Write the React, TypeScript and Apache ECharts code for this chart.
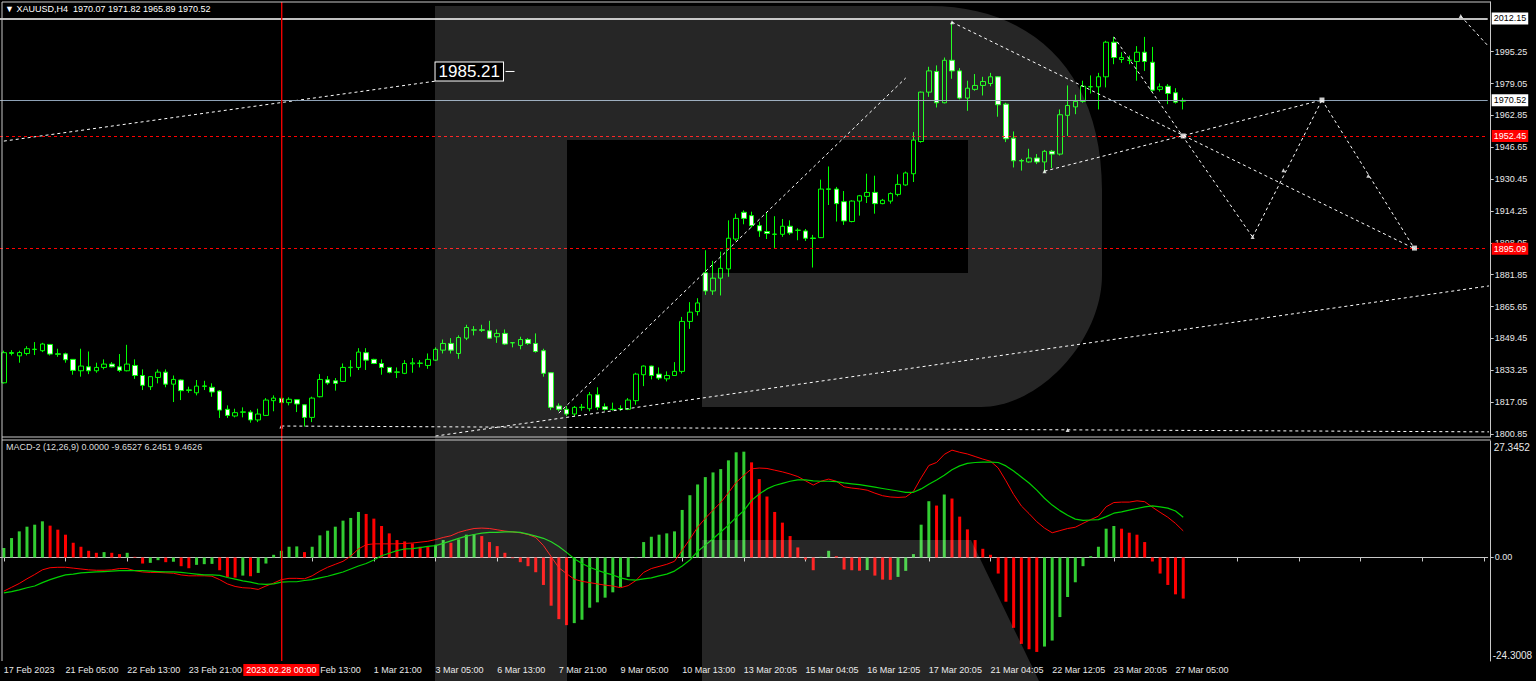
import { useEffect, useRef } from 'react';
import * as echarts from 'echarts';

// ---------- DATA ----------
// [open, high, low, close] per H4 bar, 17 Feb 2023 .. 27 Mar 2023 09:00
const ohlc: number[][] = [
  [1826.9, 1843.2, 1826.5, 1842.2], [1841.8, 1843.5, 1840.8, 1842.3], [1840.6, 1843.2, 1837.1, 1842.3], [1841.8, 1845.5, 1840.8, 1844.2],
  [1843.8, 1847.6, 1841.0, 1844.0], [1843.2, 1847.2, 1842.5, 1846.6], [1846.4, 1846.6, 1840.8, 1841.5], [1841.6, 1844.2, 1840.1, 1841.4],
  [1841.6, 1842.2, 1837.1, 1838.6], [1838.8, 1838.9, 1831.0, 1833.2], [1833.0, 1844.2, 1830.0, 1835.4], [1835.0, 1842.8, 1831.3, 1833.0],
  [1833.0, 1837.1, 1832.0, 1834.7], [1834.7, 1838.8, 1833.7, 1836.4], [1836.4, 1837.4, 1834.7, 1835.0], [1835.0, 1841.5, 1832.3, 1833.2],
  [1833.0, 1846.2, 1832.7, 1836.4], [1835.7, 1838.8, 1828.9, 1830.6], [1830.6, 1833.7, 1823.2, 1825.6], [1824.9, 1830.2, 1823.2, 1830.0],
  [1829.6, 1833.7, 1826.6, 1832.3], [1832.3, 1833.7, 1824.6, 1826.2], [1826.2, 1830.6, 1817.1, 1828.6], [1828.3, 1828.6, 1818.1, 1822.9],
  [1823.0, 1824.9, 1821.8, 1823.3], [1821.8, 1828.3, 1820.5, 1825.2], [1825.3, 1827.9, 1823.2, 1825.1], [1824.6, 1826.6, 1819.8, 1822.2],
  [1822.7, 1823.2, 1809.0, 1813.0], [1813.4, 1815.4, 1809.0, 1810.3], [1810.0, 1813.7, 1809.3, 1811.7], [1811.9, 1814.4, 1809.3, 1812.1],
  [1812.0, 1813.0, 1806.6, 1808.0], [1808.0, 1813.7, 1806.9, 1811.0], [1810.3, 1819.1, 1810.0, 1818.1], [1817.8, 1820.5, 1812.4, 1819.1],
  [1819.0, 1819.8, 1816.5, 1816.8], [1816.8, 1819.5, 1815.4, 1818.5], [1818.3, 1818.5, 1812.0, 1816.1], [1815.7, 1815.9, 1804.6, 1809.3],
  [1809.3, 1819.8, 1806.9, 1819.1], [1819.8, 1831.3, 1819.5, 1828.6], [1828.4, 1830.3, 1825.9, 1826.8], [1827.9, 1829.3, 1822.9, 1826.6],
  [1827.6, 1836.7, 1827.4, 1834.7], [1834.6, 1838.4, 1830.0, 1834.8], [1834.7, 1844.5, 1833.4, 1842.5], [1842.2, 1844.5, 1833.4, 1838.4],
  [1838.8, 1839.1, 1836.4, 1836.7], [1836.7, 1838.8, 1831.0, 1834.7], [1834.7, 1834.9, 1831.7, 1832.2], [1832.4, 1834.7, 1829.3, 1832.3],
  [1831.7, 1838.4, 1831.3, 1836.7], [1836.5, 1839.5, 1832.0, 1837.0], [1836.9, 1838.4, 1834.7, 1836.8], [1835.7, 1841.8, 1834.0, 1838.8],
  [1838.4, 1844.9, 1838.1, 1843.9], [1843.5, 1848.9, 1841.8, 1846.9], [1846.9, 1849.6, 1841.8, 1843.5], [1841.8, 1851.0, 1839.1, 1849.9],
  [1849.6, 1856.4, 1848.6, 1855.0], [1853.7, 1855.7, 1851.0, 1853.8], [1853.8, 1856.4, 1852.7, 1853.6], [1853.3, 1858.4, 1849.4, 1849.6],
  [1850.3, 1854.0, 1847.2, 1852.0], [1852.0, 1854.0, 1846.2, 1846.6], [1847.3, 1847.6, 1844.9, 1847.2], [1845.9, 1850.3, 1843.9, 1848.9],
  [1848.9, 1849.6, 1846.2, 1846.9], [1846.9, 1852.0, 1842.2, 1842.8], [1843.2, 1844.2, 1830.0, 1831.7], [1832.0, 1832.3, 1813.0, 1814.4],
  [1815.1, 1816.4, 1812.4, 1813.4], [1813.4, 1815.1, 1810.0, 1811.0], [1811.0, 1815.1, 1810.0, 1814.4], [1814.3, 1816.1, 1812.7, 1814.5],
  [1813.7, 1822.2, 1812.4, 1820.8], [1820.8, 1824.6, 1813.0, 1814.4], [1814.7, 1816.4, 1812.7, 1813.4], [1813.4, 1816.8, 1812.7, 1813.3],
  [1813.8, 1815.4, 1812.7, 1813.6], [1813.4, 1819.1, 1813.0, 1818.1], [1817.8, 1832.0, 1815.7, 1831.3], [1831.0, 1835.7, 1825.2, 1835.4],
  [1835.4, 1835.6, 1828.6, 1830.6], [1831.3, 1834.7, 1828.3, 1829.3], [1828.9, 1832.7, 1827.6, 1830.6], [1830.6, 1837.4, 1830.5, 1832.7],
  [1832.7, 1860.4, 1831.6, 1858.1], [1858.1, 1867.9, 1854.3, 1862.8], [1863.1, 1869.9, 1861.1, 1867.5], [1882.8, 1894.3, 1871.6, 1873.6],
  [1873.6, 1888.9, 1871.6, 1880.1], [1880.1, 1893.6, 1871.3, 1885.1], [1884.8, 1909.5, 1880.8, 1900.4], [1900.0, 1912.9, 1899.0, 1910.5],
  [1913.6, 1914.6, 1907.5, 1910.5], [1911.9, 1913.9, 1905.8, 1906.8], [1906.8, 1908.8, 1901.1, 1904.1], [1903.8, 1913.6, 1900.0, 1902.8],
  [1902.5, 1911.6, 1895.3, 1902.4], [1902.4, 1910.2, 1901.1, 1906.5], [1906.5, 1909.5, 1902.1, 1903.1], [1904.5, 1905.5, 1899.4, 1904.4],
  [1904.1, 1905.1, 1899.0, 1900.4], [1900.5, 1902.1, 1885.5, 1900.3], [1900.7, 1930.2, 1900.5, 1925.4], [1925.5, 1936.9, 1917.3, 1925.3],
  [1925.4, 1926.5, 1908.9, 1918.0], [1919.0, 1924.4, 1907.2, 1909.2], [1908.9, 1919.7, 1908.5, 1919.3], [1919.3, 1922.4, 1911.9, 1922.0],
  [1921.7, 1933.2, 1918.3, 1923.7], [1923.7, 1932.2, 1912.9, 1918.0], [1918.0, 1920.4, 1917.7, 1919.7], [1919.3, 1923.7, 1918.0, 1923.1],
  [1922.7, 1932.9, 1921.7, 1927.8], [1927.5, 1934.3, 1927.1, 1933.6], [1933.2, 1954.4, 1929.0, 1950.3], [1949.6, 1975.0, 1949.0, 1974.7],
  [1974.7, 1987.6, 1972.3, 1985.5], [1985.2, 1988.3, 1966.9, 1969.3], [1969.3, 1992.3, 1969.0, 1990.9], [1990.9, 2010.3, 1981.5, 1985.5],
  [1985.5, 1986.9, 1971.0, 1971.7], [1971.7, 1980.5, 1965.2, 1976.7], [1976.1, 1983.9, 1975.4, 1978.1], [1978.1, 1982.5, 1973.0, 1980.1],
  [1979.1, 1984.5, 1977.7, 1982.5], [1982.5, 1982.8, 1962.2, 1968.3], [1968.6, 1969.3, 1949.3, 1951.0], [1951.3, 1954.7, 1936.4, 1939.8],
  [1939.9, 1940.8, 1934.8, 1939.7], [1939.2, 1945.9, 1938.8, 1941.2], [1941.2, 1943.2, 1938.1, 1939.2], [1939.2, 1945.3, 1933.7, 1944.6],
  [1944.6, 1945.3, 1936.1, 1943.2], [1943.2, 1965.9, 1942.5, 1963.2], [1962.9, 1978.1, 1952.4, 1967.9], [1967.2, 1973.4, 1963.5, 1970.0],
  [1970.0, 1980.5, 1969.3, 1977.7], [1977.5, 1983.2, 1974.0, 1977.4], [1977.4, 1984.5, 1965.9, 1982.5], [1982.5, 2000.8, 1977.1, 2000.1],
  [2000.1, 2002.8, 1988.9, 1992.3], [1991.3, 1995.0, 1989.6, 1992.3], [1991.0, 1993.3, 1988.9, 1990.9], [1990.3, 1998.1, 1980.5, 1995.0],
  [1995.0, 2002.8, 1985.5, 1990.3], [1989.9, 1997.7, 1975.0, 1975.7], [1976.1, 1979.1, 1975.0, 1977.4], [1977.7, 1978.8, 1968.6, 1974.0],
  [1974.4, 1976.7, 1968.9, 1969.6], [1970.07, 1971.82, 1965.89, 1970.52],
];

// MACD-2 (12,26,9) histogram
const macdHist: number[] = [
  2.2, 4.56, 6.13, 7.23, 7.7, 8.49, 7.47, 6.53, 5.35, 3.46,
  2.52, 1.57, 1.1, 1.26, 1.1, 0.79, 1.1, 0.16, -1.42, -1.26,
  -0.63, -1.1, -1.0, -2.04, -2.52, -1.73, -1.57, -1.5, -2.99, -4.56,
  -4.72, -4.25, -4.4, -3.62, -1.42, 0.63, 1.57, 2.52, 2.6, 1.26,
  2.52, 5.19, 6.29, 7.23, 8.65, 9.28, 10.69, 10.22, 9.12, 7.39,
  5.66, 4.09, 3.77, 3.3, 2.52, 2.45, 2.99, 4.09, 3.46, 4.25,
  5.35, 5.45, 5.03, 3.62, 2.67, 1.1, -0.16, -1.1, -2.04, -3.46,
  -6.45, -11.32, -14.47, -15.88, -15.41, -14.62, -11.79, -10.53, -9.43, -8.18,
  -6.92, -4.56, -0.16, 3.62, 4.87, 5.35, 5.66, 6.13, 11.16, 14.62,
  17.14, 18.87, 19.97, 20.75, 22.8, 24.69, 24.84, 22.33, 18.4, 14.31,
  10.69, 8.18, 5.03, 2.36, -0.47, -2.99, 0.16, 1.57, 0.31, -2.83,
  -2.99, -3.1, -2.95, -4.25, -5.19, -5.25, -4.56, -3.14, 0.79, 7.7,
  13.21, 12.19, 14.78, 13.84, 9.59, 6.6, 4.09, 2.04, 0.63, -3.77,
  -10.38, -16.51, -20.28, -21.54, -22.17, -20.91, -19.5, -13.99, -9.28, -5.82,
  -2.04, 0.31, 2.52, 6.76, 7.39, 6.76, 5.82, 5.35, 3.62, -0.94,
  -3.77, -6.45, -8.65, -9.6527,
];

// red line
const macdMain: number[] = [
  -7.9, -7.0, -6.1, -5.0, -4.0, -2.9, -2.4, -2.3, -2.3, -2.5,
  -2.7, -2.9, -3.0, -3.0, -2.9, -2.6, -2.6, -3.1, -3.4, -3.5,
  -3.5, -3.6, -3.7, -4.1, -4.3, -4.3, -4.3, -4.4, -5.2, -6.2,
  -6.8, -7.1, -7.2, -7.5, -6.7, -6.0, -5.2, -4.9, -4.9, -5.0,
  -4.3, -3.2, -2.3, -1.6, -0.9, 0.3, 2.0, 3.0, 3.2, 3.2,
  3.2, 3.2, 3.3, 3.4, 3.6, 3.8, 4.2, 4.7, 5.1, 5.9,
  6.4, 6.8, 6.9, 6.8, 6.5, 6.2, 6.0, 5.8, 5.4, 4.7,
  2.8, 0.2, -2.4, -3.8, -5.1, -5.6, -5.9, -6.2, -6.5, -6.7,
  -7.1, -6.6, -5.4, -3.5, -2.6, -2.1, -1.6, -0.9, 1.7, 4.3,
  7.1, 9.2, 11.1, 12.9, 15.2, 17.6, 19.3, 20.8, 21.0, 20.9,
  20.5, 20.1, 19.6, 19.0, 18.0, 17.0, 17.9, 18.4, 17.9, 16.6,
  16.3, 16.1, 15.8, 15.1, 14.5, 14.2, 14.1, 14.2, 15.5, 18.7,
  21.6, 22.3, 24.2, 25.2, 24.7, 24.3, 23.7, 23.1, 22.6, 21.0,
  18.0, 14.8, 12.1, 10.3, 8.4, 6.9, 5.8, 6.3, 6.8, 7.1,
  8.0, 8.9, 9.7, 11.9, 12.9, 13.0, 13.0, 13.3, 13.1, 11.8,
  10.6, 9.45, 8.0, 6.2451,
];

// green line
const macdSignal: number[] = [
  -8.3, -8.0, -7.6, -7.1, -6.7, -5.9, -5.2, -4.6, -4.1, -3.9,
  -3.6, -3.5, -3.4, -3.3, -3.2, -3.1, -3.1, -3.1, -3.1, -3.2,
  -3.3, -3.4, -3.4, -3.5, -3.7, -3.9, -4.1, -4.1, -4.2, -4.7,
  -5.1, -5.5, -5.8, -6.2, -6.3, -6.2, -5.8, -5.7, -5.7, -5.4,
  -5.2, -4.8, -4.4, -3.9, -3.4, -2.7, -2.0, -1.4, -0.6, 0.4,
  1.0, 1.6, 2.0, 2.1, 2.3, 2.6, 2.8, 3.3, 3.9, 4.5,
  5.0, 5.4, 5.7, 5.9, 5.9, 6.0, 6.0, 5.9, 5.5, 5.0,
  4.5, 3.7, 2.6, 1.2, -0.3, -1.4, -2.3, -3.0, -3.6, -4.1,
  -4.8, -5.2, -5.3, -5.0, -4.8, -4.3, -3.9, -3.2, -2.0, -0.6,
  1.4, 2.9, 4.4, 6.0, 7.6, 9.4, 11.0, 13.4, 14.9, 16.1,
  16.9, 17.4, 17.9, 18.2, 18.2, 18.0, 17.9, 17.9, 17.8, 17.5,
  17.3, 17.1, 16.8, 16.5, 16.2, 15.9, 15.6, 15.3, 15.3, 16.1,
  17.2, 18.2, 19.3, 20.6, 21.5, 22.1, 22.3, 22.4, 22.4, 22.3,
  21.5, 20.3, 18.9, 17.5, 15.8, 13.9, 12.3, 11.0, 9.9, 9.0,
  8.7, 8.8, 8.9, 9.6, 10.4, 10.7, 11.1, 11.5, 11.9, 12.1,
  11.9, 11.6, 10.9, 9.4626,
];

// one label every 8 bars, starting at bar 0 (label 4 is hidden under the red time box,
// label 5 shows only its visible part, "Feb 13:00")
const timeLabels: string[] = [
  '17 Feb 2023', '21 Feb 05:00', '22 Feb 13:00', '23 Feb 21:00', '', 'Feb 13:00',
  '1 Mar 21:00', '3 Mar 05:00', '6 Mar 13:00', '7 Mar 21:00', '9 Mar 05:00', '10 Mar 13:00',
  '13 Mar 20:05', '15 Mar 04:05', '16 Mar 12:05', '17 Mar 20:05', '21 Mar 04:05', '22 Mar 12:05',
  '23 Mar 20:05', '27 Mar 05:00',
];
const partialLabelIndex = 5;

const priceTicks: number[] = [
  1800.85, 1817.05, 1833.25, 1849.45, 1865.65, 1881.85, 1898.05,
  1914.25, 1930.45, 1946.65, 1962.85, 1979.05, 1995.25,
];
const macdTicks: number[] = [-24.3008, 0, 27.3452];

// horizontal levels
const levelWhite = 2012.15;
const levelBid = 1970.52;
const levelRed: number[] = [1952.45, 1895.09];
const markedBar = 36; // vertical red line, 2023.02.28 00:00
const markedBarLabel = '2023.02.28 00:00';
const priceLabelValue = 1985.21;
const priceLabelAnchor: number[] = [56.0, 1985.21];

// dashed trend lines in [bar index, price]
const trendLines: number[][][] = [
  [[0.15, 1949.8], [55.6, 1980.3]],
  [[35.8, 1804.9], [193.5, 1801.9]],
  [[55.5, 1799.8], [193.5, 1876.9]],
  [[72.2, 1811.5], [116.7, 1981.9]],
  [[123, 2010.3], [182.7, 1895.1]],
  [[144, 2002.8], [161.9, 1901.0]],
  [[135, 1934.5], [171.0, 1970.7]],
  [[161.9, 1901.0], [171.0, 1970.7]],
  [[171.0, 1970.7], [182.7, 1895.1]],
  [[188.9, 2013.4], [193.5, 1992.0]],
];
const squareMarks: number[][] = [[153, 1952.4], [171.0, 1970.7], [182.7, 1895.4]];
const arrowMarks: number[][] = [
  [123, 2010.3], [135, 1934.5], [161.9, 1901.0], [166.4, 1935.0], [177.0, 1932.2],
  [35.8, 1804.7], [137.9, 1802.9], [188.9, 2013.4],
];

const SLOT_COUNT = 193;
const slots = Array.from({ length: SLOT_COUNT }, (_, i) => String(i));

// ---------- STYLE / LAYOUT ----------
const W = 1536;
const H = 681;
const FONT = '"Liberation Sans", Arial, sans-serif';
const GRID_RIGHT = 48.3;
const FRAME = '#c8c8c8';
const TXT = '#e8e8e8';
const CANDLE = '#00ff00';
const HIST_UP = '#32cd32';
const HIST_DN = '#ff0000';
const VLINE = '#ee0000';

const R_PATH =
  'M435 6 L930 6 C1030 6 1102 70 1102 190 L1102 275 C1102 340 1040 407 981 407 L702 407 L702 273 L968 273 L968 140 L567 140 L567 681 L435 681 Z ' +
  'M702 540 L971 540 L1039 681 L702 681 Z';

let registered = false;

export default function App() {
  const ref = useRef<HTMLDivElement>(null);

  useEffect(() => {
    document.body.style.margin = '0';
    document.body.style.background = '#000';
    if (!registered) {
      echarts.graphic.registerShape('rLogo', echarts.graphic.extendPath(R_PATH, {}) as any);
      registered = true;
    }
    const chart = echarts.init(ref.current!, null, { renderer: 'svg', width: W, height: H });

    const hLine = (value: number, color: string, type: any, width: number, bg: string, fg: string) => ({
      yAxis: value,
      lineStyle: { color, type, width },
      label: {
        show: true,
        position: 'end',
        distance: 4,
        formatter: value.toFixed(2),
        backgroundColor: bg,
        color: fg,
        padding: [2, 2, 1, 2],
        fontSize: 9,
        fontFamily: FONT,
      },
    });

    const lineSeries: any[] = trendLines.map((seg) => ({
      type: 'line',
      xAxisIndex: 0,
      yAxisIndex: 0,
      data: seg,
      showSymbol: false,
      silent: true,
      z: 4,
      lineStyle: { color: '#ffffff', width: 1, type: [3, 3] },
    }));

    const option: any = {
      animation: false,
      backgroundColor: '#000',
      textStyle: { fontFamily: FONT },
      grid: [
        { left: 0, right: GRID_RIGHT, top: 2, height: 435 },
        { left: 0, right: GRID_RIGHT, top: 441, height: 220 },
      ],
      xAxis: [
        {
          type: 'category', gridIndex: 0, data: slots, boundaryGap: true,
          axisLine: { show: false }, axisTick: { show: false }, axisLabel: { show: false }, splitLine: { show: false },
        },
        {
          type: 'category', gridIndex: 1, data: slots, boundaryGap: true,
          axisLine: { show: true, lineStyle: { color: FRAME, width: 1 } },
          axisTick: { show: true, alignWithLabel: true, interval: 7, length: 4, lineStyle: { color: FRAME } },
          axisLabel: {
            show: true, interval: 7, align: 'left', margin: 4, color: TXT, fontSize: 9, fontFamily: FONT,
            formatter: (_v: string, i: number) => {
              if (i % 8 !== 0) return '';
              const k = i / 8;
              const t = timeLabels[k] ?? '';
              return k === partialLabelIndex && t ? `{p|${t}}` : t;
            },
            rich: { p: { padding: [0, 0, 0, 8], color: TXT, fontSize: 9, fontFamily: FONT } },
          },
          splitLine: { show: false },
        },
      ],
      yAxis: [
        {
          type: 'value', gridIndex: 0, position: 'right', offset: 3, min: 1799.32, max: 2020.54, scale: true,
          axisLine: { show: true, lineStyle: { color: FRAME } },
          axisTick: { show: true, length: 3, customValues: priceTicks, lineStyle: { color: FRAME } },
          axisLabel: {
            show: true, customValues: priceTicks, margin: 4, color: TXT, fontSize: 9, fontFamily: FONT,
            formatter: (v: number) => v.toFixed(2),
          },
          splitLine: { show: false },
        },
        {
          type: 'value', gridIndex: 1, position: 'right', offset: 3, min: -24.3008, max: 27.3452,
          axisLine: { show: true, lineStyle: { color: FRAME } },
          axisTick: { show: true, length: 3, customValues: [0], lineStyle: { color: FRAME } },
          axisLabel: {
            show: true, customValues: [0], margin: 4, color: TXT, fontSize: 9, fontFamily: FONT,
            formatter: (v: number) => v.toFixed(2),
          },
          splitLine: { show: false },
        },
      ],
      series: [
        {
          type: 'candlestick',
          xAxisIndex: 0,
          yAxisIndex: 0,
          barWidth: 5,
          z: 3,
          data: ohlc.map((c) => [c[0], c[3], c[2], c[1]]),
          itemStyle: { color: '#000000', color0: '#ffffff', borderColor: CANDLE, borderColor0: CANDLE, borderWidth: 1 },
          markLine: {
            silent: true,
            symbol: ['none', 'none'],
            animation: false,
            data: [
              hLine(levelWhite, '#ffffff', 'solid', 1.5, '#ffffff', '#000000'),
              hLine(levelBid, '#8ea2b6', 'solid', 1, '#ffffff', '#000000'),
              ...levelRed.map((v) => hLine(v, '#ff0000', [3, 3], 1, '#ff0000', '#ffffff')),
            ],
          },
        },
        ...lineSeries,
        {
          type: 'scatter', xAxisIndex: 0, yAxisIndex: 0, silent: true, z: 5,
          symbol: 'rect', symbolSize: 5, itemStyle: { color: '#ffffff' }, data: squareMarks,
        },
        {
          type: 'scatter', xAxisIndex: 0, yAxisIndex: 0, silent: true, z: 5,
          symbol: 'triangle', symbolSize: 4, itemStyle: { color: '#ffffff' }, data: arrowMarks,
        },
        {
          type: 'bar',
          xAxisIndex: 1,
          yAxisIndex: 1,
          barWidth: 3,
          z: 2,
          data: macdHist,
          itemStyle: {
            color: (p: any) => (p.dataIndex === 0 || macdHist[p.dataIndex] >= macdHist[p.dataIndex - 1] ? HIST_UP : HIST_DN),
          },
        },
        {
          type: 'line', xAxisIndex: 1, yAxisIndex: 1, data: macdMain, showSymbol: false, silent: true, z: 3,
          lineStyle: { color: '#ff0000', width: 1 },
        },
        {
          type: 'line', xAxisIndex: 1, yAxisIndex: 1, data: macdSignal, showSymbol: false, silent: true, z: 3,
          lineStyle: { color: '#00d000', width: 1.2 },
        },
      ],
    };

    chart.setOption(option);

    const last = ohlc[ohlc.length - 1];
    const n = macdHist.length - 1;
    const lblPt = chart.convertToPixel({ gridIndex: 0 }, priceLabelAnchor) as number[];
    const datePt = chart.convertToPixel({ gridIndex: 1 }, [markedBar, 0]) as number[];
    const macdTop = chart.convertToPixel({ gridIndex: 1 }, [0, macdTicks[2]]) as number[];
    const macdBot = chart.convertToPixel({ gridIndex: 1 }, [0, macdTicks[0]]) as number[];
    const vx = Math.round(datePt[0]);
    const axisX = W - GRID_RIGHT + 3;
    const font9 = `9px ${FONT}`;

    chart.setOption({
      graphic: [
        // vertical red line through both panes (filled 1px-wide rect for a crisp red)
        { type: 'rect', z: 6, silent: true, shape: { x: vx, y: 2, width: 1.4, height: 659 }, style: { fill: VLINE } },
        { type: 'rLogo', x: 0, y: 0, z: 10, silent: true, style: { fill: 'rgba(255,255,255,0.15)' } },
        // frame
        { type: 'line', z: 20, silent: true, shape: { x1: 2, y1: 2, x2: axisX, y2: 2 }, style: { stroke: FRAME, lineWidth: 1 } },
        { type: 'line', z: 20, silent: true, shape: { x1: 2, y1: 2, x2: 2, y2: 661 }, style: { stroke: FRAME, lineWidth: 1 } },
        { type: 'line', z: 20, silent: true, shape: { x1: 2, y1: 437, x2: axisX, y2: 437 }, style: { stroke: FRAME, lineWidth: 1 } },
        { type: 'line', z: 20, silent: true, shape: { x1: 2, y1: 440, x2: axisX, y2: 440 }, style: { stroke: FRAME, lineWidth: 1 } },
        // headers
        {
          type: 'text', z: 20, silent: true, x: 5, y: 9,
          style: {
            text: `▼ XAUUSD,H4  ${last.map((v) => v.toFixed(2)).join(' ')}`,
            fill: '#ffffff', font: font9, verticalAlign: 'middle',
          },
        },
        {
          type: 'text', z: 20, silent: true, x: 6, y: 447,
          style: {
            text: `MACD-2 (12,26,9) 0.0000 ${macdHist[n].toFixed(4)} ${macdMain[n].toFixed(4)} ${macdSignal[n].toFixed(4)}`,
            fill: '#dcdcdc', font: font9, verticalAlign: 'middle',
          },
        },
        // macd scale extremes
        {
          type: 'text', z: 20, silent: true, x: axisX + 3, y: macdTop[1] + 6,
          style: { text: macdTicks[2].toFixed(4), fill: TXT, font: `10px ${FONT}`, verticalAlign: 'middle' },
        },
        {
          type: 'text', z: 20, silent: true, x: axisX + 2, y: macdBot[1] - 6,
          style: { text: macdTicks[0].toFixed(4), fill: TXT, font: `10px ${FONT}`, verticalAlign: 'middle' },
        },
        // price label object
        {
          type: 'text', z: 20, silent: true, x: lblPt[0], y: lblPt[1],
          style: {
            text: priceLabelValue.toFixed(2), fill: '#ffffff', font: `17px ${FONT}`, verticalAlign: 'middle',
            backgroundColor: '#000000', borderColor: '#ffffff', borderWidth: 1, padding: [1, 3, 0, 3],
          },
        },
        {
          type: 'line', z: 20, silent: true,
          shape: { x1: lblPt[0] + 70, y1: lblPt[1], x2: lblPt[0] + 79, y2: lblPt[1] },
          style: { stroke: '#ffffff', lineWidth: 1 },
        },
        // time label of the vertical line
        {
          type: 'text', z: 30, silent: true, x: datePt[0], y: 670,
          style: {
            text: markedBarLabel, fill: '#ffffff', font: font9, align: 'center', verticalAlign: 'middle',
            backgroundColor: '#ff0000', padding: [2, 3, 1, 3],
          },
        },
      ],
    });

    return () => chart.dispose();
  }, []);

  return <div ref={ref} style={{ position: 'absolute', left: 0, top: 0, width: W, height: H }} />;
}
